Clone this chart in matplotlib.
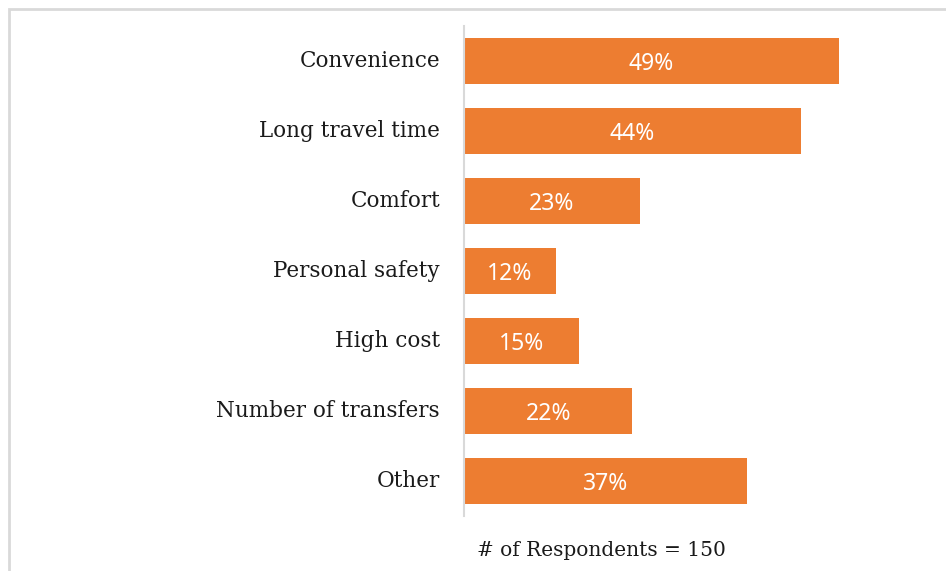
import matplotlib.pyplot as plt
import matplotlib.transforms as mtransforms
from matplotlib.patches import Rectangle

# Reasons given by respondents
reasons = ['Convenience', 'Long travel time', 'Comfort', 'Personal safety',
           'High cost', 'Number of transfers', 'Other']
shares = [49, 44, 23, 12, 15, 22, 37]
n_respondents = 150

bar_color = '#ED7D31'

fig = plt.figure(figsize=(9.46, 5.71), dpi=100)
W, H = 946, 571

# light frame around the chart area
fig.patches.append(Rectangle((8.5 / W, -0.1), 1.2, (H - 8.5) / H + 0.1,
                             transform=fig.transFigure, fill=False,
                             edgecolor='#d9d9d9', linewidth=2))

ax = fig.add_axes([464 / W, (H - 516) / H, 459 / W, 490 / H])
y = range(len(reasons))
ax.barh(y, shares, height=0.66, color=bar_color)
ax.set_ylim(len(reasons) - 0.5, -0.5)
ax.set_xlim(0, 60)

for yi, v in zip(y, shares):
    ax.text(v / 2, yi + 0.04, f'{v}%', ha='center', va='center',
            color='white', fontsize=16.5, family='Noto Sans')

# category names, placed left of the axis
label_tf = mtransforms.blended_transform_factory(ax.transAxes, ax.transData) + \
    mtransforms.ScaledTranslation(-24 / 100, 0.5 / 100, fig.dpi_scale_trans)
for yi, name in zip(y, reasons):
    ax.text(0, yi, name, transform=label_tf, ha='right', va='center',
            family='DejaVu Serif', fontsize=15.5, color='#1a1a1a')

ax.set_yticks([])
ax.set_xticks([])
for side in ['top', 'right', 'bottom']:
    ax.spines[side].set_visible(False)
ax.spines['left'].set_color('#d9d9d9')
ax.spines['left'].set_linewidth(1.5)

fig.text(477 / W, (H - 550) / H, f'# of Respondents = {n_respondents}',
         family='DejaVu Serif', fontsize=14.5, color='#1a1a1a',
         ha='left', va='center')

fig.savefig('out.png', dpi=100)
